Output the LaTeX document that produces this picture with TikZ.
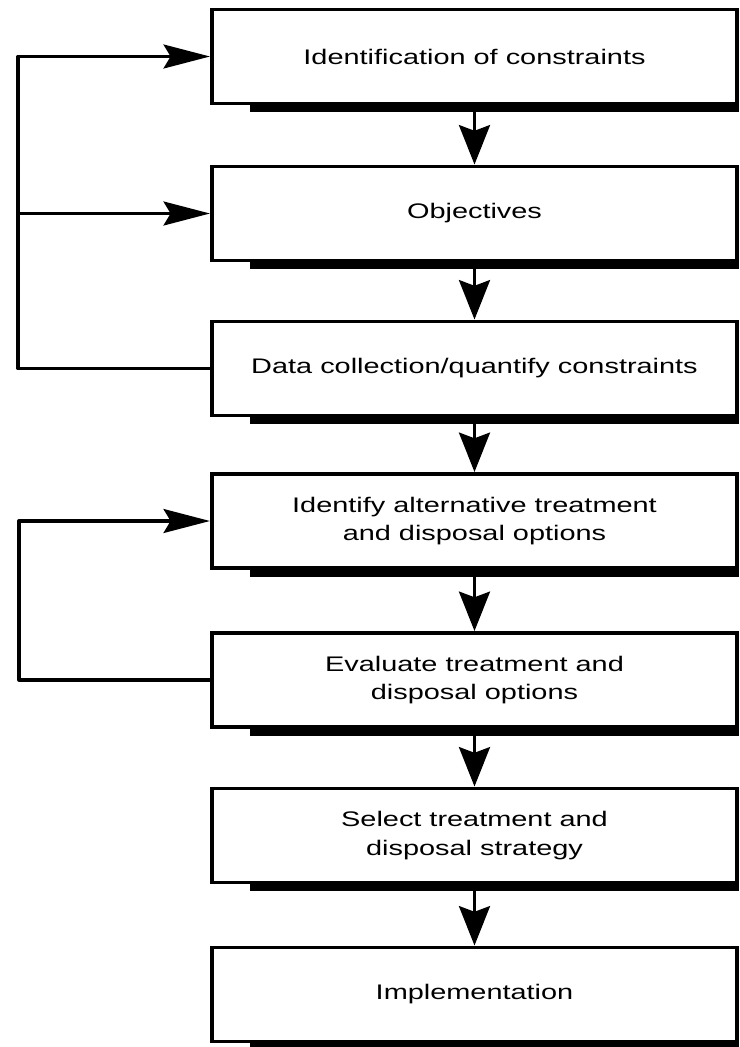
\documentclass[tikz,border=0pt]{standalone}
\usepackage{fontspec}
\setmainfont{Liberation Sans}[FakeStretch=1.37]
\usetikzlibrary{arrows.meta,calc}

\begin{document}
\begin{tikzpicture}[x=0.025cm, y=-0.025cm,
  every node/.style={font=\fontsize{15}{20.5}\selectfont},
  stagebox/.style={draw, line width=2.8pt, minimum width=13.125cm,
    minimum height=2.35cm, inner sep=0pt, align=center},
  vflow/.style={line width=2.5pt, -{Stealth[length=28pt, width=22pt, inset=4pt]}},
  hflow/.style={line width=2.3pt, line join=round,
    -{Stealth[length=33pt, width=17pt, inset=5pt]}}]
  \useasboundingbox (0,0) rectangle (740,1047);

  % Stages
  \node[stagebox] (ident)   at (474.5,56.5) {Identification of constraints};
  \node[stagebox] (obj)     at (474.5,213.5) {Objectives};
  \node[stagebox] (data)    at (474.5,368.5) {Data collection/quantify constraints};
  \node[stagebox] (altern)  at (474.5,521)   {Identify alternative treatment\\and disposal options};
  \node[stagebox] (evalopt) at (474.5,680)   {Evaluate treatment and\\disposal options};
  \node[stagebox] (select)  at (474.5,835.5) {Select treatment and\\disposal strategy};
  \node[stagebox] (impl)    at (474.5,994.5) {Implementation};

  % Shadow under each box
  \foreach \n in {ident,obj,data,altern,evalopt,select,impl}
    \fill ($(\n.south west)+(40,0)$) rectangle ($(\n.south east)+(0,7)$);

  % Main flow
  \draw[vflow] (ident.south) -- (obj.north);
  \draw[vflow] (obj.south) -- (data.north);
  \draw[vflow] (data.south) -- (altern.north);
  \draw[vflow] (altern.south) -- (evalopt.north);
  \draw[vflow] (evalopt.south) -- (select.north);
  \draw[vflow] (select.south) -- (impl.north);

  % Feedback loops
  \coordinate (loopA) at (18,0);
  \coordinate (loopB) at (19,0);
  \draw[hflow] (data.west) -| (loopA |- ident.west) -- (ident.west);
  \draw[hflow] (loopA |- obj.west) -- (obj.west);
  \draw[hflow] (evalopt.west) -| (loopB |- altern.west) -- (altern.west);
\end{tikzpicture}
\end{document}
